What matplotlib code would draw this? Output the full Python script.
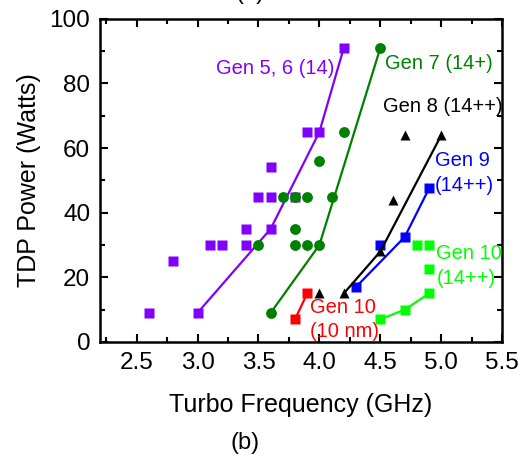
import matplotlib
matplotlib.use("Agg")
import matplotlib.pyplot as plt
from matplotlib.ticker import MultipleLocator

plt.rcParams['font.family'] = ['Liberation Sans', 'DejaVu Sans']

# Gen 5, 6 (14)
g56_x = [2.6, 2.8, 3.0, 3.1, 3.2, 3.4, 3.4, 3.5, 3.6, 3.6, 3.6, 3.8, 3.9, 4.0, 4.2]
g56_y = [9, 25, 9, 30, 30, 30, 35, 45, 45, 35, 54, 45, 65, 65, 91]
g56_fit_x = [3.0, 3.6, 4.0, 4.2]
g56_fit_y = [9, 35, 65, 91]

# Gen 7 (14+)
g7_x = [3.5, 3.8, 3.9, 4.0, 3.8, 3.6, 3.7, 3.8, 3.9, 4.1, 4.0, 4.2, 4.5]
g7_y = [30, 30, 30, 30, 35, 9, 45, 45, 45, 45, 56, 65, 91]
g7_fit_x = [3.6, 4.0, 4.5]
g7_fit_y = [9, 30, 91]

# Gen 10 (10 nm)
g10n_x = [3.8, 3.9]
g10n_y = [7, 15]

# Gen 8 (14++)
g8_x = [4.0, 4.2, 4.5, 4.6, 4.7, 5.0]
g8_y = [15, 15, 28, 44, 64, 64]
g8_fit_x = [4.2, 4.5, 5.0]
g8_fit_y = [15, 28, 64]

# Gen 9 (14++)
g9_x = [4.3, 4.5, 4.7, 4.9]
g9_y = [17, 30, 32.5, 47.5]
g9_fit_x = [4.3, 4.7, 4.9]
g9_fit_y = [17, 32.5, 47.5]

# Gen 10 (14++)
g10_x = [4.5, 4.7, 4.9, 4.8, 4.9, 4.9]
g10_y = [7, 10, 15, 30, 30, 22.5]
g10_fit_x = [4.5, 4.7, 4.9]
g10_fit_y = [7, 10, 15]

purple = '#8000ff'
green = '#008000'
lime = '#00ff00'

fig = plt.figure(figsize=(5.32, 4.59), dpi=100)
ax = fig.add_axes([0.188, 0.255, 0.756, 0.704])

lw = 1.6
ax.plot(g56_fit_x, g56_fit_y, color=purple, lw=lw)
ax.plot(g56_x, g56_y, 's', color=purple, ms=6.8, mec='none')
ax.plot(g7_fit_x, g7_fit_y, color=green, lw=lw)
ax.plot(g7_x, g7_y, 'o', color=green, ms=7.8, mec='none')
ax.plot(g10n_x, g10n_y, '-s', color='red', lw=lw, ms=6.8, mec='none')
ax.plot(g9_fit_x, g9_fit_y, color='blue', lw=lw)
ax.plot(g9_x, g9_y, 's', color='blue', ms=6.8, mec='none')
ax.plot(g8_fit_x, g8_fit_y, color='black', lw=lw)
ax.plot(g8_x, g8_y, '^', color='black', ms=7.5, mec='none')
ax.plot(g10_fit_x, g10_fit_y, color=lime, lw=lw)
ax.plot(g10_x, g10_y, 's', color=lime, ms=6.8, mec='none')

fs = 14.5
ls = 1.35
ax.text(3.15, 84.5, 'Gen 5, 6 (14)', color=purple, fontsize=fs, va='center')
ax.text(4.54, 86.3, 'Gen 7 (14+)', color=green, fontsize=fs, va='center')
ax.text(4.52, 72.8, 'Gen 8 (14++)', color='black', fontsize=fs, va='center')
ax.text(4.95, 52.3, 'Gen 9\n(14++)', color='blue', fontsize=fs, va='center', linespacing=ls)
ax.text(4.96, 23.5, 'Gen 10\n(14++)', color=lime, fontsize=fs, va='center', linespacing=ls)
ax.text(3.92, 7.0, 'Gen 10\n(10 nm)', color='red', fontsize=fs, va='center', linespacing=ls)

ax.set_xlim(2.2, 5.5)
ax.set_ylim(0, 100)
ax.xaxis.set_major_locator(MultipleLocator(0.5))
ax.xaxis.set_minor_locator(MultipleLocator(0.25))
ax.yaxis.set_major_locator(MultipleLocator(20))
ax.yaxis.set_minor_locator(MultipleLocator(10))
ax.xaxis.set_major_formatter(matplotlib.ticker.FormatStrFormatter('%.1f'))
ax.tick_params(which='both', direction='in', top=True, right=True, labelsize=17.5, width=1.5)
ax.tick_params(which='major', length=6, pad=7)
ax.tick_params(which='minor', length=3.5)
for s in ax.spines.values():
    s.set_linewidth(1.8)

ax.set_xlabel('Turbo Frequency (GHz)', fontsize=18, labelpad=14)
ax.set_ylabel('TDP Power (Watts)', fontsize=18, labelpad=6)

fig.text(0.46, 0.035, '(b)', fontsize=17, ha='center', va='center')
fig.text(0.47, 0.992, '(a)', fontsize=17, ha='center', va='bottom')

fig.savefig('out.png', dpi=100)
